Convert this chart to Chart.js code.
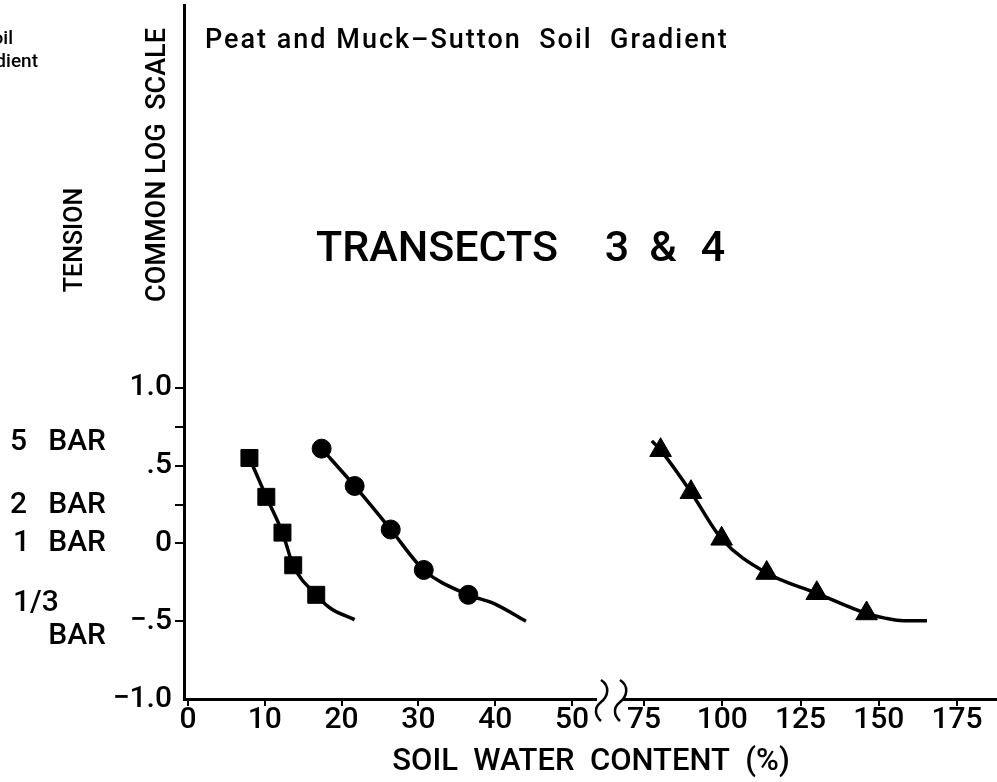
<!DOCTYPE html>
<html>
<head>
<meta charset="utf-8">
<script src="https://cdn.jsdelivr.net/npm/chart.js@4.4.0/dist/chart.umd.min.js"></script>
<style>
  html, body { margin: 0; padding: 0; background: #fff; }
</style>
</head>
<body>
<canvas id="grafik" width="997" height="782"></canvas>
<script>
// --- data: kadar air tanah (%) vs tegangan (log bar) ---
const squareWater = [8.0, 10.2, 12.3, 13.7, 16.7];
const squareTension = [0.55, 0.30, 0.07, -0.14, -0.33];
const squareTailWater = [18.5, 21.7];
const squareTailTension = [-0.415, -0.49];

const circleWater = [17.4, 21.7, 26.4, 30.7, 36.5];
const circleTension = [0.61, 0.37, 0.09, -0.17, -0.33];
const circleTailWater = [39.8, 44.0];
const circleTailTension = [-0.385, -0.50];

const triangleHeadWater = [77.5];
const triangleHeadTension = [0.66];
const triangleWater = [80.3, 90.0, 99.8, 114.2, 130.2, 146.1];
const triangleTension = [0.60, 0.33, 0.03, -0.19, -0.32, -0.45];
const triangleTailWater = [152, 158, 165.4];
const triangleTailTension = [-0.48, -0.497, -0.497];

const xTicksLeft = [0, 10, 20, 30, 40, 50];
const xTicksRight = [75, 100, 125, 150, 175];
const yTicks = [-1, -0.5, 0, 0.25, 0.5, 0.75, 1];
const yTickLabels = { '-1': '\u22121.0', '-0.5': '\u2212.5', '0': '0', '0.5': '.5', '1': '1.0' };

// sumbu x terputus: 0-50 rapat biasa, 75-175 dipadatkan
const BREAK_FROM = 75;
const BREAK_POS = 59.375;
const RIGHT_RATIO = 0.4076;
function toAxis(w) { return w < 62 ? w : BREAK_POS + (w - BREAK_FROM) * RIGHT_RATIO; }
function fromAxis(u) { return u < 55 ? u : BREAK_FROM + (u - BREAK_POS) / RIGHT_RATIO; }

const FONT = "Roboto, 'DejaVu Sans', sans-serif";
const WEIGHT = '500';

function toPoints(xs, ys) {
    return xs.map((x, i) => ({ x: toAxis(x), y: ys[i] }));
}

function makeSeries(label, style, radius, head, marks, tail) {
    const data = [...toPoints(head[0], head[1]), ...toPoints(marks[0], marks[1]), ...toPoints(tail[0], tail[1])];
    const radii = [...head[0].map(() => 0), ...marks[0].map(() => radius), ...tail[0].map(() => 0)];
    return {
        label: label,
        data: data,
        showLine: true,
        borderColor: '#000',
        backgroundColor: '#000',
        borderWidth: 3.5,
        cubicInterpolationMode: 'monotone',
        pointStyle: style,
        pointRadius: radii,
        pointBorderWidth: 1,
        pointBorderColor: '#000',
        pointBackgroundColor: '#000'
    };
}

const annotate = {
    id: 'annotate',
    afterDraw(chart) {
        const c = chart.ctx;
        c.save();
        c.fillStyle = '#000';
        c.textBaseline = 'middle';

        function text(str, x, y, size, align) {
            c.font = WEIGHT + ' ' + size + 'px ' + FONT;
            c.textAlign = align || 'left';
            c.fillText(str, x, y);
        }

        // potongan judul panel sebelah
        text('Soil', 13, 39, 19, 'right');
        text('Gradient', 38, 62, 19, 'right');

        c.letterSpacing = '2px';
        text('Peat and Muck\u2013Sutton  Soil  Gradient', 205, 41, 27);
        c.letterSpacing = '0px';

        text('TRANSECTS', 316, 250, 43);
        text('3', 617, 250, 43, 'center');
        text('&', 663, 250, 43, 'center');
        text('4', 713, 250, 43, 'center');

        // label BAR di kiri sumbu
        text('5', 10, 442, 30);
        text('BAR', 106, 442, 30, 'right');
        text('2', 10, 505, 30);
        text('BAR', 106, 505, 30, 'right');
        text('1', 13, 543, 30);
        text('BAR', 106, 543, 30, 'right');
        text('1/3', 13, 603, 30);
        text('BAR', 106, 636, 30, 'right');

        // judul sumbu tegak
        c.save();
        c.translate(158, 165);
        c.rotate(-Math.PI / 2);
        text('COMMON LOG  SCALE', 0, 0, 27, 'center');
        c.restore();
        c.save();
        c.translate(76, 240);
        c.rotate(-Math.PI / 2);
        text('TENSION', 0, 0, 25, 'center');
        c.restore();

        text('SOIL  WATER  CONTENT  (%)', 591, 762, 31, 'center');

        // tanda putus sumbu x
        c.fillStyle = '#fff';
        c.fillRect(597, 694, 26, 10);
        c.strokeStyle = '#000';
        c.lineWidth = 2.5;
        [0, 19].forEach(dx => {
            c.beginPath();
            c.moveTo(601 + dx, 680);
            c.bezierCurveTo(610 + dx, 686, 609 + dx, 696, 600 + dx, 703);
            c.bezierCurveTo(594 + dx, 708, 595 + dx, 716, 601 + dx, 721);
            c.stroke();
        });
        c.restore();
    }
};

new Chart(document.getElementById('grafik'), {
    type: 'scatter',
    data: {
        datasets: [
            makeSeries('Squares', 'rect', 12, [[], []], [squareWater, squareTension], [squareTailWater, squareTailTension]),
            makeSeries('Circles', 'circle', 9.5, [[], []], [circleWater, circleTension], [circleTailWater, circleTailTension]),
            makeSeries('Triangles', 'triangle', 12.5, [triangleHeadWater, triangleHeadTension], [triangleWater, triangleTension], [triangleTailWater, triangleTailTension])
        ]
    },
    options: {
        responsive: false,
        animation: false,
        devicePixelRatio: 1,
        layout: { autoPadding: false, padding: { top: 5, left: 0, right: 0, bottom: 0 } },
        plugins: {
            legend: { display: false },
            tooltip: { enabled: false }
        },
        scales: {
            x: {
                type: 'linear',
                min: -0.52,
                max: 105.34,
                afterFit: (scale) => {
                    scale.height = 83;
                    scale.paddingLeft = 0;
                    scale.paddingRight = 0;
                },
                afterBuildTicks: (scale) => {
                    scale.ticks = [...xTicksLeft, ...xTicksRight].map(v => ({ value: toAxis(v) }));
                },
                border: { display: true, color: '#000', width: 3 },
                grid: { display: true, drawOnChartArea: false, drawTicks: true, tickLength: 7, color: '#000', lineWidth: 2 },
                ticks: {
                    color: '#000',
                    padding: -4,
                    maxRotation: 0,
                    autoSkip: false,
                    font: { family: FONT, size: 30, weight: WEIGHT },
                    callback: (v) => String(Math.round(fromAxis(v)))
                }
            },
            y: {
                type: 'linear',
                min: -1,
                max: 3.463,
                afterFit: (scale) => {
                    scale.width = 184;
                    scale.paddingTop = 0;
                    scale.paddingBottom = 0;
                },
                afterBuildTicks: (scale) => {
                    scale.ticks = yTicks.map(v => ({ value: v }));
                },
                border: { display: true, color: '#000', width: 3 },
                grid: {
                    display: true, drawOnChartArea: false, drawTicks: true, tickLength: 9, lineWidth: 2,
                    color: (ctx) => (ctx.tick && ctx.tick.value === -1) ? 'rgba(0,0,0,0)' : '#000'
                },
                ticks: {
                    color: '#000',
                    padding: 3,
                    autoSkip: false,
                    font: { family: FONT, size: 30, weight: WEIGHT },
                    callback: (v) => yTickLabels[String(v)] || ''
                }
            }
        }
    },
    plugins: [annotate]
});
</script>
</body>
</html>
